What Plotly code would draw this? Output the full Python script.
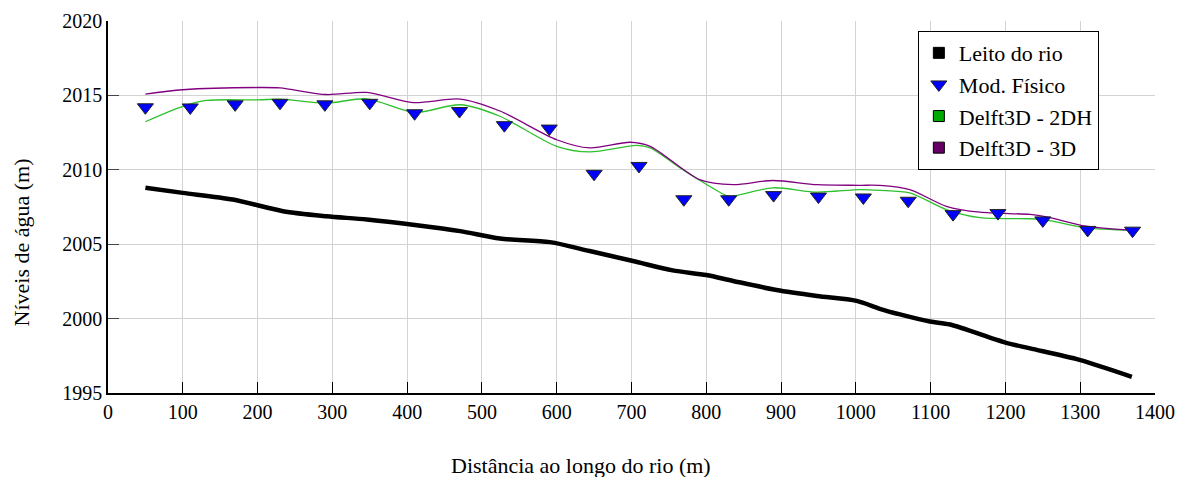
import plotly.graph_objects as go

# Mod. Físico (measured points)
fis_x = [50, 110, 170, 230, 290, 350, 410, 470, 530, 590, 650, 710, 770, 830,
         890, 950, 1010, 1070, 1130, 1190, 1250, 1310, 1370]
fis_y = [2014.2, 2014.19, 2014.4, 2014.5, 2014.4, 2014.5, 2013.8, 2013.95, 2013.0,
         2012.77, 2009.73, 2010.26, 2008.02, 2008.02, 2008.3, 2008.2, 2008.14,
         2007.92, 2007.02, 2007.09, 2006.6, 2005.96, 2005.91]

# Delft3D - 3D
d3_x = [50, 100, 200, 230, 292, 346, 408, 471, 524, 600, 644, 698, 725, 791, 836,
        889, 948, 1005, 1032, 1072, 1121, 1166, 1233, 1255, 1308, 1368]
d3_y = [2015.09, 2015.38, 2015.53, 2015.5, 2015.06, 2015.2, 2014.52, 2014.75, 2013.95,
        2012.02, 2011.47, 2011.85, 2011.58, 2009.34, 2009.0, 2009.28, 2009.0, 2008.96,
        2008.95, 2008.67, 2007.55, 2007.15, 2007.0, 2006.84, 2006.21, 2005.94]

# Delft3D - 2DH
d2_x = [50, 100, 132, 201, 230, 292, 346, 410, 471, 524, 600, 644, 707, 725, 765,
        791, 827, 836, 889, 948, 1005, 1032, 1072, 1121, 1166, 1233, 1255, 1308, 1368]
d2_y = [2013.23, 2014.26, 2014.66, 2014.7, 2014.75, 2014.48, 2014.77, 2013.86, 2014.37,
        2013.6, 2011.58, 2011.2, 2011.64, 2011.47, 2010.13, 2009.3, 2008.27, 2008.23,
        2008.79, 2008.5, 2008.67, 2008.62, 2008.45, 2007.33, 2006.78, 2006.71, 2006.62,
        2006.1, 2005.94]

# Leito do rio (river bed)
bed_x = [50, 100, 167, 234, 292, 346, 413, 471, 524, 591, 644, 702, 755, 800, 836,
         894, 948, 1001, 1032, 1059, 1099, 1126, 1199, 1233, 1299, 1369]
bed_y = [2008.79, 2008.45, 2008.0, 2007.22, 2006.88, 2006.66, 2006.28, 2005.88, 2005.38,
         2005.14, 2004.54, 2003.87, 2003.24, 2002.93, 2002.53, 2001.92, 2001.52, 2001.19,
         2000.66, 2000.28, 1999.8, 1999.6, 1998.4, 1998.0, 1997.23, 1996.09]

x_ticks = list(range(0, 1401, 100))
y_ticks = [1995, 2000, 2005, 2010, 2015, 2020]

FONT = "Liberation Serif"

fig = go.Figure()

# drawn lines (no legend)
fig.add_trace(go.Scatter(x=bed_x, y=bed_y, mode="lines", showlegend=False,
                         line=dict(color="black", width=4.5, shape="spline", smoothing=0.8)))
fig.add_trace(go.Scatter(x=d2_x, y=d2_y, mode="lines", showlegend=False,
                         line=dict(color="#2ec02e", width=1.3, shape="spline", smoothing=0.8)))
fig.add_trace(go.Scatter(x=d3_x, y=d3_y, mode="lines", showlegend=False,
                         line=dict(color="#800080", width=1.3, shape="spline", smoothing=0.8)))

# legend entries
fig.add_trace(go.Scatter(x=[None], y=[None], mode="markers", name="Leito do rio",
                         legendgroup="a",
                         marker=dict(symbol="square", size=11, color="black",
                                     line=dict(color="black", width=1))))
fig.add_trace(go.Scatter(x=fis_x, y=fis_y, mode="markers", name="Mod. Físico",
                         legendgroup="b",
                         marker=dict(symbol="triangle-down", size=14, color="#0000ff",
                                     line=dict(color="#222222", width=1))))
fig.add_trace(go.Scatter(x=[None], y=[None], mode="markers", name="Delft3D - 2DH",
                         legendgroup="c",
                         marker=dict(symbol="square", size=11, color="#00aa00",
                                     line=dict(color="black", width=1))))
fig.add_trace(go.Scatter(x=[None], y=[None], mode="markers", name="Delft3D - 3D",
                         legendgroup="d",
                         marker=dict(symbol="square", size=11, color="#660066",
                                     line=dict(color="black", width=1))))

fig.update_layout(
    width=1180, height=477,
    margin=dict(l=108, r=25, t=21, b=84, autoexpand=False),
    paper_bgcolor="white", plot_bgcolor="white",
    font=dict(family=FONT, size=20, color="black"),
    legend=dict(x=0.7735, y=0.973, xanchor="left", yanchor="top",
                bordercolor="black", borderwidth=1, bgcolor="white",
                font=dict(family=FONT, size=22), tracegroupgap=0,
                itemsizing="trace"),
    xaxis=dict(range=[0, 1400], tickvals=x_ticks, showgrid=True, gridcolor="#d3d3d3",
               gridwidth=1, showline=True, linecolor="black", linewidth=1.5,
               ticks="inside", ticklen=11, tickcolor="black", zeroline=False,
               automargin=False, tickfont=dict(family=FONT, size=20)),
    yaxis=dict(range=[1995, 2020], tickvals=y_ticks, showgrid=True, gridcolor="#d3d3d3",
               gridwidth=1, showline=True, linecolor="black", linewidth=1.5,
               ticks="inside", ticklen=11, tickcolor="#444444", zeroline=False,
               automargin=False, tickfont=dict(family=FONT, size=20)),
    annotations=[
        dict(text="Distância ao longo do rio (m)", xref="paper", yref="paper",
             x=0.452, y=-0.194, xanchor="center", yanchor="middle", showarrow=False,
             font=dict(family=FONT, size=22)),
        dict(text="Níveis de água (m)", xref="paper", yref="paper",
             x=-0.083, y=0.405, xanchor="center", yanchor="middle", showarrow=False,
             textangle=-90, font=dict(family=FONT, size=22)),
    ],
)

fig.write_html("out.html", config={"displayModeBar": False},
               post_script="document.body.style.margin='0';document.body.style.overflow='hidden';")
